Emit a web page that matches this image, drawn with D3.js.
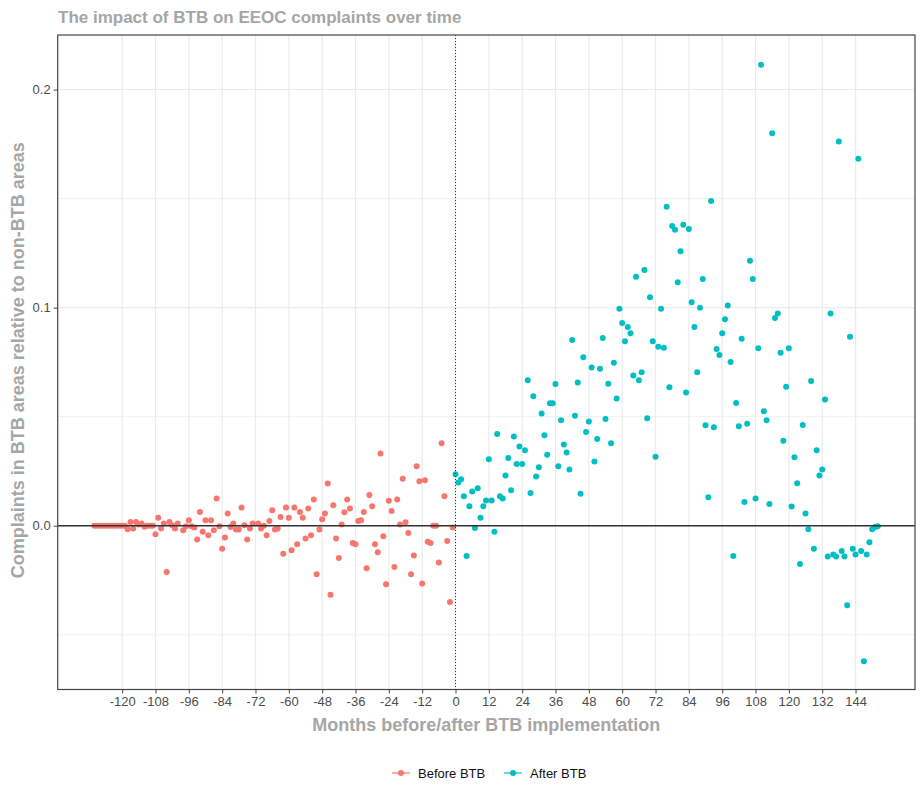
<!DOCTYPE html>
<html>
<head>
<meta charset="utf-8">
<script src="https://cdn.jsdelivr.net/npm/d3@7"></script>
<style>
  body { margin: 0; background: #fff; }
  text { font-family: "Liberation Sans", Arial, sans-serif; }
</style>
</head>
<body>
<div class="canvas"></div>
<script>
// months relative to BTB implementation and complaint differences
const beforeMonths = [-130, -129, -128, -127, -126, -125, -124, -123, -122, -121, -120, -119,
  -118, -117, -116, -115, -114, -113, -112, -111, -110, -109, -108, -107, -106, -105, -104, -103,
  -102, -101, -100, -98, -97, -96, -95, -94, -93, -92, -91, -90, -89, -88, -87, -86, -85, -84,
  -83, -82, -81, -80, -79, -78, -77, -76, -75, -74, -73, -71, -70, -69, -68, -67, -66, -65, -64,
  -63, -62, -61, -60, -59, -58, -57, -56, -55, -54, -53, -52, -51, -50, -49, -48, -47, -46, -45,
  -44, -43, -42, -41, -40, -39, -38, -37, -36, -35, -34, -33, -32, -31, -30, -29, -28, -27, -26,
  -25, -24, -23, -22, -21, -20, -19, -18, -17, -16, -15, -14, -13, -12, -11, -10, -9, -8, -7, -6,
  -5, -4, -3, -2, -1];
const beforeValues = [0, 0, 0, 0, 0, 0, 0, 0, 0, 0, 0, 0,
  -0.0016, 0.0017, -0.0013, 0.0017, 0.0005, 0.0010, -0.0005, 0, 0, 0, -0.0039, 0.0036, -0.0013, 0.0010, -0.0212, 0.0017,
  0.0002, -0.0013, 0.0010, -0.0021, -0.0002, 0.0025, -0.0002, -0.0008, -0.0063, 0.0063, -0.0028, 0.0025, -0.0044, 0.0025, -0.0021, 0.0125, -0.0002, -0.0106,
  -0.0054, 0.0056, -0.0006, 0.0010, -0.0017, -0.0017, 0.0083, 0.0002, -0.0063, -0.0013, 0.0010, 0.0010, -0.0013, 0, -0.0044, 0.0022, 0.0071, -0.0017, -0.0013,
  0.0040, -0.0128, 0.0083, 0.0036, -0.0112, 0.0083, -0.0085, 0.0063, 0.0036, -0.0059, 0.0079, -0.0044, 0.0120, -0.0222, -0.0017, 0.0030, 0.0056, 0.0194, -0.0316,
  0.0094, -0.0059, -0.0148, 0.0006, 0.0062, 0.0120, 0.0079, -0.0079, -0.0085, 0.0022, 0.0025, 0.0063, -0.0195, 0.0141, 0.0089, -0.0085, -0.0122, 0.0331, -0.0048,
  -0.0268, 0.0114, 0.0068, -0.0189, 0.0120, 0.0006, 0.0215, 0.0016, -0.0033, -0.0222, -0.0137, 0.0273, 0.0204, -0.0265, 0.0209, -0.0074, -0.0079, 0, 0, -0.0169,
  0.0378, 0.0135, -0.0070, -0.0350, -0.0008];

const afterMonths = d3.range(0, 153);
const afterValues = [0.0236, 0.0198, 0.0213, 0.0135, -0.0139, 0.0089, 0.0157, -0.0011, 0.0172, 0.0037,
  0.0089, 0.0116, 0.0305, 0.0116, -0.0028, 0.0420, 0.0135, 0.0125, 0.0230, 0.0310,
  0.0163, 0.0409, 0.0283, 0.0363, 0.0283, 0.0346, 0.0667, 0.0150, 0.0594, 0.0226,
  0.0268, 0.0515, 0.0415, 0.0325, 0.0562, 0.0562, 0.0650, 0.0273, 0.0484, 0.0372,
  0.0336, 0.0258, 0.0851, 0.0504, 0.0657, 0.0146, 0.0772, 0.0430, 0.0478, 0.0726,
  0.0294, 0.0398, 0.0720, 0.0861, 0.0489, 0.0651, 0.0378, 0.0747, 0.0583, 0.0995,
  0.0930, 0.0846, 0.0911, 0.0883, 0.0689, 0.1141, 0.0667, 0.0704, 0.1172, 0.0493,
  0.1047, 0.0846, 0.0316, 0.0820, 0.0995, 0.0816, 0.1462, 0.0635, 0.1374, 0.1357,
  0.1116, 0.1258, 0.1380, 0.0611, 0.1361, 0.1025, 0.0911, 0.0704, 0.0999, 0.1131,
  0.0461, 0.0131, 0.1489, 0.0452, 0.0810, 0.0783, 0.0883, 0.0947, 0.1010, 0.0751,
  -0.0139, 0.0563, 0.0456, 0.0857, 0.0109, 0.0467, 0.1215, 0.1131, 0.0125, 0.0814,
  0.2114, 0.0525, 0.0484, 0.0099, 0.1799, 0.0952, 0.0973, 0.0793, 0.0389, 0.0637,
  0.0814, 0.0088, 0.0314, 0.0195, -0.0175, 0.0462, 0.0056, -0.0016, 0.0663, -0.0106,
  0.0346, 0.0230, 0.0258, 0.0579, -0.0141, 0.0973, -0.0132, -0.0141, 0.1762, -0.0116,
  -0.0141, -0.0365, 0.0866, -0.0106, -0.0132, 0.1683, -0.0116, -0.0622, -0.0132, -0.0076,
  -0.0016, -0.0006, -0.0002];

const xTicks = d3.range(-120, 145, 12);
const yTicks = [0, 0.1, 0.2];
const yMinor = [-0.05, 0.05, 0.15];
const seriesNames = ['Before BTB', 'After BTB'];
const seriesColors = ['#F8766D', '#00BFC4'];

const width = 924, height = 803;
const panel = { left: 57.7, right: 915, top: 35, bottom: 689.5 };

const svg = d3.select('.canvas').append('svg')
    .attr('width', width)
    .attr('height', height);

const x = d3.scaleLinear()
    .domain([-143.2, 165.4])
    .range([panel.left, panel.right]);

const y = d3.scaleLinear()
    .domain([-0.0751, 0.225])
    .range([panel.bottom, panel.top]);

// grid
const grid = svg.append('g');
grid.selectAll('.ymin')
    .data(yMinor)
    .enter().append('line')
    .attr('x1', panel.left).attr('x2', panel.right)
    .attr('y1', d => y(d)).attr('y2', d => y(d))
    .attr('stroke', '#eeeeee').attr('stroke-width', 0.8);
grid.selectAll('.ymaj')
    .data(yTicks)
    .enter().append('line')
    .attr('x1', panel.left).attr('x2', panel.right)
    .attr('y1', d => y(d)).attr('y2', d => y(d))
    .attr('stroke', '#ebebeb').attr('stroke-width', 1.2);
grid.selectAll('.xmaj')
    .data(xTicks)
    .enter().append('line')
    .attr('y1', panel.top).attr('y2', panel.bottom)
    .attr('x1', d => x(d)).attr('x2', d => x(d))
    .attr('stroke', '#ebebeb').attr('stroke-width', 1.2);

// points
const before = beforeMonths.map((m, i) => ({ m, v: beforeValues[i] }));
const after = afterMonths.map((m, i) => ({ m, v: afterValues[i] }));

svg.append('g').selectAll('circle')
    .data(before)
    .enter().append('circle')
    .attr('cx', d => x(d.m))
    .attr('cy', d => y(d.v))
    .attr('r', 3)
    .attr('fill', seriesColors[0]);

svg.append('g').selectAll('circle')
    .data(after)
    .enter().append('circle')
    .attr('cx', d => x(d.m))
    .attr('cy', d => y(d.v))
    .attr('r', 3)
    .attr('fill', seriesColors[1]);

// reference lines
svg.append('line')
    .attr('x1', panel.left).attr('x2', panel.right)
    .attr('y1', y(0)).attr('y2', y(0))
    .attr('stroke', '#333').attr('stroke-width', 1.5);
svg.append('line')
    .attr('x1', x(0)).attr('x2', x(0))
    .attr('y1', panel.top).attr('y2', panel.bottom)
    .attr('stroke', '#333').attr('stroke-width', 1)
    .attr('stroke-dasharray', '1,2');

// panel border
svg.append('rect')
    .attr('x', panel.left).attr('y', panel.top)
    .attr('width', panel.right - panel.left)
    .attr('height', panel.bottom - panel.top)
    .attr('fill', 'none')
    .attr('stroke', '#444').attr('stroke-width', 1.2);

// axes
const xAxis = d3.axisBottom(x).tickValues(xTicks).tickSize(4).tickPadding(3).tickFormat(d3.format('d'));
const yAxis = d3.axisLeft(y).tickValues(yTicks).tickSize(4).tickPadding(3).tickFormat(d3.format('.1f'));

const xAxisGroup = svg.append('g')
    .attr('transform', `translate(0, ${panel.bottom})`)
    .call(xAxis);
const yAxisGroup = svg.append('g')
    .attr('transform', `translate(${panel.left}, 0)`)
    .call(yAxis);

[xAxisGroup, yAxisGroup].forEach(g => {
    g.select('.domain').remove();
    g.selectAll('line').attr('stroke', '#444');
    g.selectAll('text')
        .attr('fill', '#4d4d4d')
        .style('font-size', '13px')
        .style('font-family', '"Liberation Sans", Arial, sans-serif');
});
xAxisGroup.selectAll('text').text(d => d < 0 ? '-' + Math.abs(d) : d);

// titles
svg.append('text')
    .attr('x', 58).attr('y', 23)
    .attr('fill', '#a6a6a6')
    .style('font-size', '17px').style('font-weight', 'bold')
    .text('The impact of BTB on EEOC complaints over time');

svg.append('text')
    .attr('x', (panel.left + panel.right) / 2).attr('y', 731)
    .attr('text-anchor', 'middle')
    .attr('fill', '#a6a6a6')
    .style('font-size', '18px').style('font-weight', 'bold')
    .text('Months before/after BTB implementation');

svg.append('text')
    .attr('transform', `translate(24, ${(panel.top + panel.bottom) / 2 - 2}) rotate(-90)`)
    .attr('text-anchor', 'middle')
    .attr('fill', '#a6a6a6')
    .style('font-size', '18px').style('font-weight', 'bold')
    .text('Complaints in BTB areas relative to non-BTB areas');

// legend
const legend = svg.append('g').attr('transform', 'translate(0, 773)');
const legendX = [392, 504];
seriesNames.forEach((name, i) => {
    const g = legend.append('g').attr('transform', `translate(${legendX[i]}, 0)`);
    g.append('line')
        .attr('x1', 0).attr('x2', 18).attr('y1', 0).attr('y2', 0)
        .attr('stroke', seriesColors[i]).attr('stroke-width', 1.2);
    g.append('circle').attr('cx', 9).attr('cy', 0).attr('r', 3).attr('fill', seriesColors[i]);
    g.append('text')
        .attr('x', 26).attr('y', 4.5)
        .attr('fill', '#111')
        .style('font-size', '13px')
        .text(name);
});
</script>
</body>
</html>
